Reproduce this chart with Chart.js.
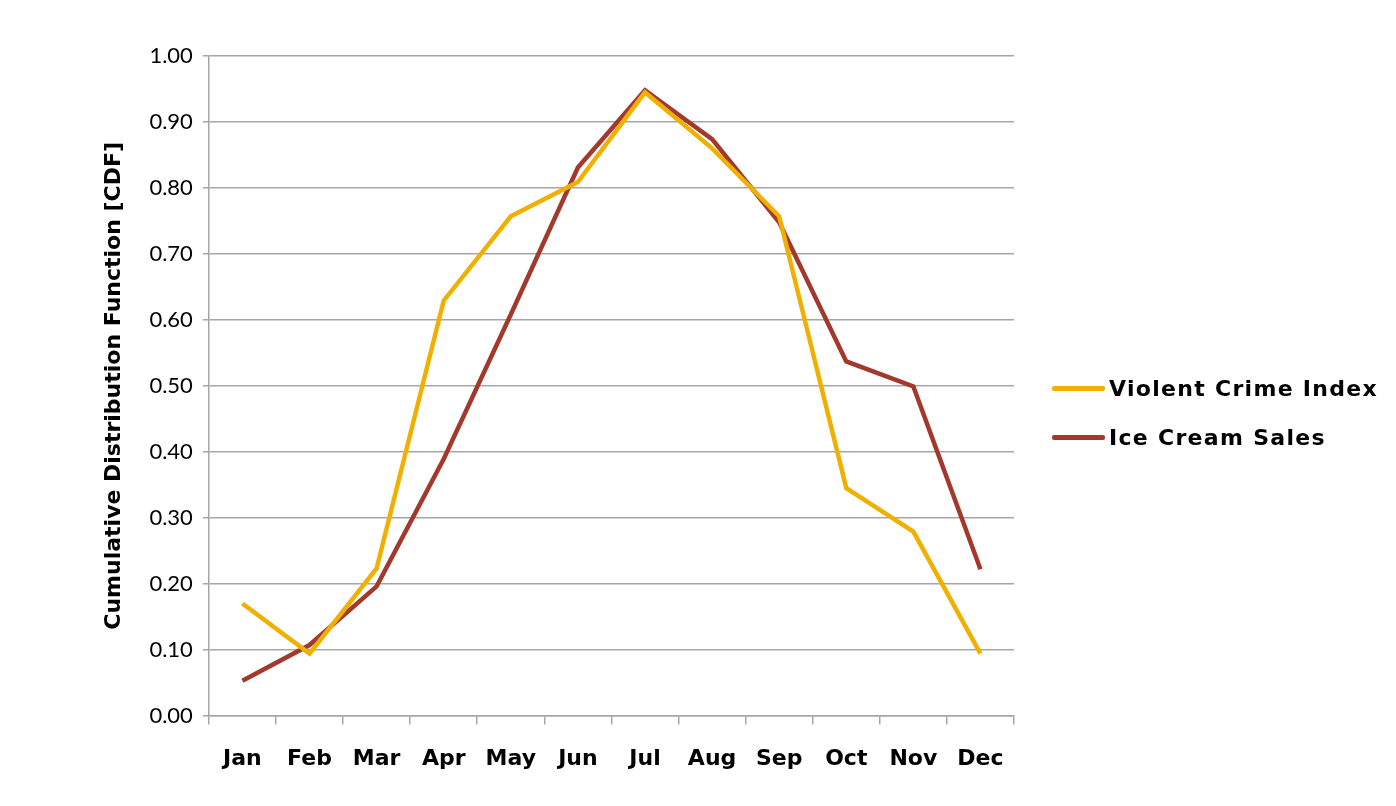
<!DOCTYPE html>
<html>
<head>
<meta charset="utf-8">
<script src="https://cdn.jsdelivr.net/npm/chart.js@4.4.1/dist/chart.umd.min.js"></script>
<style>
  html, body { margin: 0; padding: 0; background: #fff; }
  #wrap { position: relative; width: 1396px; height: 806px; }
  #legend {
    position: absolute; left: 1052px; top: 364px;
    font-family: 'DejaVu Sans', sans-serif; font-weight: bold; font-size: 22px;
    letter-spacing: 1.3px; color: #000;
  }
  #legend .item { display: flex; align-items: center; height: 49px; white-space: nowrap; }
  #legend .swatch { width: 53px; height: 5px; border-radius: 2px; margin-right: 4px; }
</style>
</head>
<body>
<div id="wrap"><canvas id="cdfChart"></canvas><div id="legend"></div></div>
<script>
const months = ['Jan', 'Feb', 'Mar', 'Apr', 'May', 'Jun', 'Jul', 'Aug', 'Sep', 'Oct', 'Nov', 'Dec'];
const violentCrime = [0.170, 0.094, 0.223, 0.629, 0.757, 0.809, 0.945, 0.860, 0.757, 0.345, 0.279, 0.094];
const iceCreamSales = [0.053, 0.107, 0.196, 0.389, 0.608, 0.831, 0.948, 0.874, 0.748, 0.537, 0.499, 0.222];
const yTicks = [0, 0.1, 0.2, 0.3, 0.4, 0.5, 0.6, 0.7, 0.8, 0.9, 1.0];

const gridGray = '#a6a6a6';
const heavyFont = { family: 'DejaVu Sans', size: 22, weight: 'bold' };

// legend as html so it can sit wider than chart.js allows on the side
const htmlLegend = {
    id: 'htmlLegend',
    afterUpdate(chart) {
        const box = document.getElementById('legend');
        box.innerHTML = '';
        chart.data.datasets.forEach(ds => {
            const row = document.createElement('div');
            row.className = 'item';
            const swatch = document.createElement('span');
            swatch.className = 'swatch';
            swatch.style.background = ds.borderColor;
            const text = document.createElement('span');
            text.textContent = ds.label;
            row.appendChild(swatch);
            row.appendChild(text);
            box.appendChild(row);
        });
    }
};

new Chart(document.getElementById('cdfChart'), {
    type: 'line',
    data: {
        labels: months,
        datasets: [
            {
                label: 'Violent Crime Index',
                data: violentCrime,
                borderColor: '#f0b000',
                borderWidth: 4.5,
                pointRadius: 0,
                tension: 0,
                fill: false
            },
            {
                label: 'Ice Cream Sales',
                data: iceCreamSales,
                borderColor: '#a2392c',
                borderWidth: 4.5,
                pointRadius: 0,
                tension: 0,
                fill: false
            }
        ]
    },
    options: {
        responsive: true,
        maintainAspectRatio: false,
        animation: false,
        layout: {
            padding: { left: 101, top: 56, right: 382, bottom: 13 }
        },
        plugins: {
            tooltip: { enabled: false },
            legend: { display: false }
        },
        scales: {
            x: {
                offset: true,
                grid: {
                    offset: true,
                    drawOnChartArea: false,
                    drawTicks: true,
                    tickLength: 9,
                    color: gridGray,
                    lineWidth: 1.5
                },
                border: { color: gridGray, width: 1.5 },
                ticks: {
                    color: '#000',
                    font: heavyFont,
                    padding: 21,
                    maxRotation: 0,
                    autoSkip: false
                }
            },
            y: {
                min: 0,
                max: 1,
                afterBuildTicks: scale => {
                    scale.ticks = yTicks.map(v => ({ value: v }));
                },
                grid: {
                    color: gridGray,
                    lineWidth: 1.5,
                    tickLength: 6
                },
                border: { color: gridGray, width: 1.5 },
                ticks: {
                    color: '#000',
                    font: { family: 'Lato', size: 22 },
                    padding: 10,
                    callback: v => Number(v).toFixed(2)
                },
                title: {
                    display: true,
                    text: 'Cumulative Distribution Function [CDF]',
                    color: '#000',
                    font: { family: 'DejaVu Sans', size: 22, weight: 'bold' },
                    padding: { top: 0, bottom: 12 }
                }
            }
        }
    },
    plugins: [htmlLegend]
});
</script>
</body>
</html>
